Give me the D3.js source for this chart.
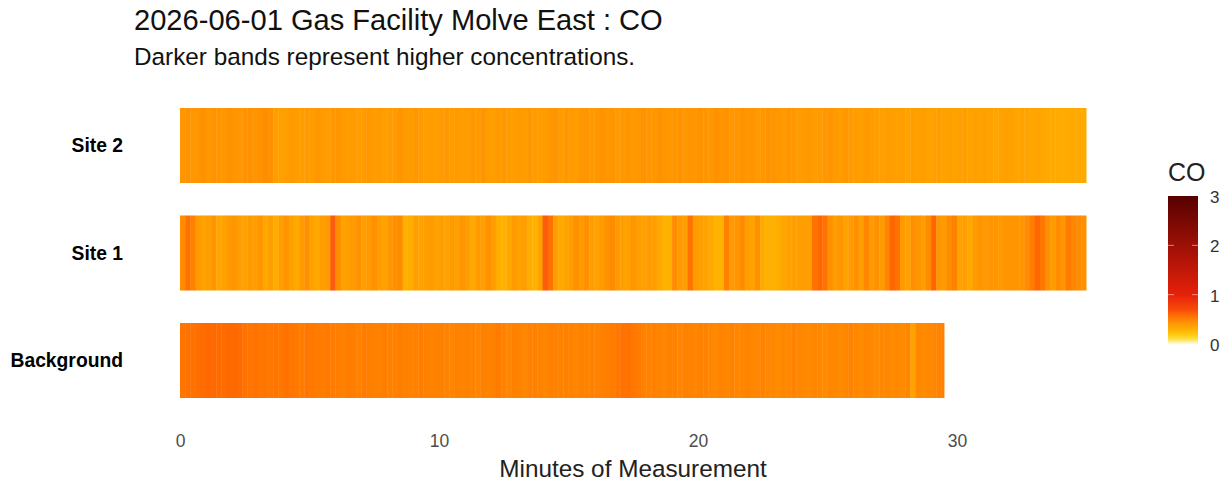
<!DOCTYPE html>
<html>
<head>
<meta charset="utf-8">
<script src="https://cdn.jsdelivr.net/npm/d3@7"></script>
<style>
  html, body { margin: 0; padding: 0; background: #fff; }
  text { font-family: "Liberation Sans", Arial, Helvetica, sans-serif; }
</style>
</head>
<body>
<svg id="chart" width="1231" height="482"></svg>
<script>
const sites = ["Site 2", "Site 1", "Background"];
const durations = [35, 35, 29.5];
const bin_minutes = 0.2;
const x_ticks = [0, 10, 20, 30];
const legend_ticks = [0, 1, 2, 3];
const color_stops = [0, 0.1, 0.2, 0.3, 0.4, 0.55, 0.7, 1, 2, 3];
const color_values = ["#fffbe4", "#ffe040", "#ffc810", "#ffae00", "#ff9a06", "#ff7405", "#f84a08", "#e6200a", "#9c1006", "#560000"];

// CO per 0.2 minute bin
const site2 = [
  .42,.43,.41,.42,.44,.41,.43,.42,.41,.43,.42,.41,.43,.44,.42,.43,.45,.44,.38,.37,.38,.40,.39,.38,.40,
  .39,.41,.40,.39,.41,.42,.40,.39,.40,.38,.40,.41,.39,.40,.38,.39,.40,.42,.40,.39,.41,.40,.38,.39,.38,
  .40,.41,.39,.40,.38,.39,.41,.40,.42,.39,.38,.40,.41,.39,.38,.40,.39,.41,.40,.38,.39,.41,.42,.40,.41,
  .40,.39,.41,.42,.40,.41,.43,.41,.42,.40,.41,.42,.40,.41,.43,.42,.41,.43,.42,.41,.42,.43,.41,.42,.41,
  .43,.42,.41,.44,.42,.43,.41,.42,.43,.41,.42,.40,.41,.43,.42,.41,.40,.42,.41,.39,.40,.41,.39,.40,.41,
  .42,.40,.39,.41,.40,.39,.38,.40,.39,.38,.37,.39,.38,.37,.38,.36,.38,.37,.38,.36,.37,.38,.36,.37,.36,
  .37,.38,.36,.37,.36,.37,.36,.35,.36,.37,.36,.35,.36,.35,.34,.35,.34,.33,.32,.32,.31,.32,.32,.33,.32
];
const site1 = [
  .46,.56,.50,.40,.36,.38,.42,.34,.36,.40,.42,.38,.36,.40,.38,.42,.33,.38,.31,.38,.42,.36,.33,.40,.44,
  .36,.33,.38,.40,.64,.46,.36,.38,.40,.44,.38,.40,.44,.38,.36,.42,.44,.46,.29,.31,.38,.36,.38,.40,.36,
  .38,.36,.40,.37,.42,.38,.33,.40,.37,.44,.38,.30,.28,.33,.40,.36,.38,.31,.28,.36,.64,.56,.38,.33,.36,
  .38,.44,.40,.44,.38,.36,.40,.44,.46,.40,.38,.36,.42,.38,.36,.40,.38,.33,.28,.29,.46,.40,.38,.56,.40,
  .38,.36,.33,.28,.28,.50,.40,.42,.46,.38,.36,.44,.31,.29,.29,.30,.34,.36,.38,.38,.38,.38,.56,.60,.56,
  .44,.38,.42,.36,.40,.44,.38,.48,.40,.44,.40,.48,.60,.56,.40,.36,.44,.42,.38,.46,.60,.42,.40,.46,.50,
  .36,.38,.33,.40,.42,.40,.42,.42,.40,.42,.42,.42,.42,.46,.52,.60,.54,.44,.40,.46,.42,.52,.48,.46,.44
];
const background = [
  .55,.56,.56,.57,.58,.59,.59,.58,.58,.59,.59,.58,.56,.55,.56,.54,.55,.54,.55,.54,.56,.54,.53,.52,.54,
  .53,.52,.52,.53,.52,.51,.50,.52,.51,.50,.52,.51,.50,.50,.51,.50,.50,.51,.50,.49,.50,.51,.50,.49,.50,
  .50,.49,.48,.50,.49,.50,.49,.48,.50,.49,.50,.52,.49,.48,.50,.49,.48,.50,.50,.49,.48,.50,.49,.50,.50,
  .49,.48,.50,.49,.50,.49,.50,.51,.52,.54,.56,.56,.54,.52,.50,.49,.50,.49,.48,.50,.49,.48,.50,.49,.48,
  .50,.49,.48,.47,.49,.48,.50,.48,.47,.49,.48,.47,.49,.48,.47,.46,.48,.47,.49,.48,.47,.46,.48,.47,.46,
  .48,.47,.46,.48,.49,.47,.46,.48,.47,.46,.47,.48,.46,.47,.46,.48,.36,.47,.46,.47,.48,.49,.50,.53,.55,
  .53,.51,.49
];
const series = [site2, site1, background];

function draw_chart() {
  const svg = d3.select("#chart");
  const left = 180, per_minute = 25.9, band_top = 108, band_step = 107.5, band_h = 75;

  const x = d3.scaleLinear().domain([0, 35]).range([left, left + 35 * per_minute]);
  const y = d3.scaleBand().domain(sites)
      .range([band_top, band_top + band_step * 2 + band_h])
      .paddingInner((band_step - band_h) / band_step).paddingOuter(0);

  const color = d3.scaleLinear().domain(color_stops).range(color_values).clamp(true);

  // the reference bands run into each other a little
  const soften = svg.append("defs").append("filter")
      .attr("id", "soften")
      .attr("x", "-1%").attr("width", "102%");
  soften.append("feGaussianBlur").attr("stdDeviation", "0.6 0");

  const rows = svg.append("g").selectAll("g")
      .data(sites)
      .join("g")
      .attr("transform", d => "translate(0," + y(d) + ")")
      .attr("filter", "url(#soften)");

  rows.each(function(site, s) {
    d3.select(this).selectAll("rect")
        .data(series[s])
        .join("rect")
        .attr("x", (d, i) => x(i * bin_minutes))
        .attr("width", (d, i) => x(Math.min((i + 1) * bin_minutes, durations[s])) - x(i * bin_minutes) + (i < series[s].length - 1 ? 0.4 : 0))
        .attr("y", 0)
        .attr("height", y.bandwidth())
        .attr("fill", d => color(d));
  });

  // y labels
  const y_axis = svg.append("g")
      .attr("transform", "translate(123,0.5)")
      .call(d3.axisLeft(y).tickSize(0).tickPadding(0));
  y_axis.select(".domain").remove();
  y_axis.selectAll("text")
      .style("font-family", '"Liberation Sans", Arial, sans-serif')
      .style("font-size", "19.3px")
      .style("font-weight", "bold")
      .style("fill", "#000");

  // x axis
  const x_axis = svg.append("g")
      .attr("transform", "translate(0,429)")
      .call(d3.axisBottom(x).tickValues(x_ticks).tickFormat(d3.format("d")).tickSize(0).tickPadding(6));
  x_axis.select(".domain").remove();
  x_axis.selectAll("text")
      .style("font-family", '"Liberation Sans", Arial, sans-serif')
      .style("font-size", "17.5px")
      .style("fill", "#4d4d4d");

  svg.append("text")
      .attr("x", 633).attr("y", 477)
      .attr("text-anchor", "middle")
      .style("font-size", "24.3px")
      .style("fill", "#222")
      .text("Minutes of Measurement");

  svg.append("text")
      .attr("x", 134).attr("y", 30)
      .style("font-size", "29.1px")
      .style("fill", "#111")
      .text("2026-06-01 Gas Facility Molve East : CO");

  svg.append("text")
      .attr("x", 134).attr("y", 65)
      .style("font-size", "24.3px")
      .style("fill", "#111")
      .text("Darker bands represent higher concentrations.");

  // legend
  const legend_x = 1168, legend_w = 30;
  const legend_y = d3.scaleLinear().domain([0, 3]).range([344, 196]);

  const grad = svg.select("defs").append("linearGradient")
      .attr("id", "co-gradient")
      .attr("x1", 0).attr("x2", 0).attr("y1", 1).attr("y2", 0);
  grad.selectAll("stop")
      .data(color_stops)
      .join("stop")
      .attr("offset", d => d / 3)
      .attr("stop-color", d => color(d));

  svg.append("rect")
      .attr("x", legend_x).attr("y", legend_y(3))
      .attr("width", legend_w).attr("height", legend_y(0) - legend_y(3))
      .attr("fill", "url(#co-gradient)");

  const legend_axis = svg.append("g")
      .attr("transform", "translate(" + (legend_x + legend_w) + ",1)")
      .call(d3.axisRight(legend_y).tickValues(legend_ticks).tickFormat(d3.format("d")).tickSize(0).tickPadding(12));
  legend_axis.select(".domain").remove();
  legend_axis.selectAll("text")
      .style("font-family", '"Liberation Sans", Arial, sans-serif')
      .style("font-size", "17px")
      .style("fill", "#333");

  // small white notches inside the colour bar
  const notches = svg.append("g");
  legend_ticks.filter(t => t > 0 && t < 3).forEach(t => {
    [[legend_x, legend_x + 6], [legend_x + legend_w - 6, legend_x + legend_w]].forEach(p => {
      notches.append("line")
          .attr("x1", p[0]).attr("x2", p[1])
          .attr("y1", legend_y(t)).attr("y2", legend_y(t))
          .attr("stroke", "#fff").attr("stroke-opacity", 0.5).attr("stroke-width", 1);
    });
  });

  svg.append("text")
      .attr("x", legend_x).attr("y", 181)
      .style("font-size", "25px")
      .style("fill", "#222")
      .text("CO");
}

draw_chart();
</script>
</body>
</html>
